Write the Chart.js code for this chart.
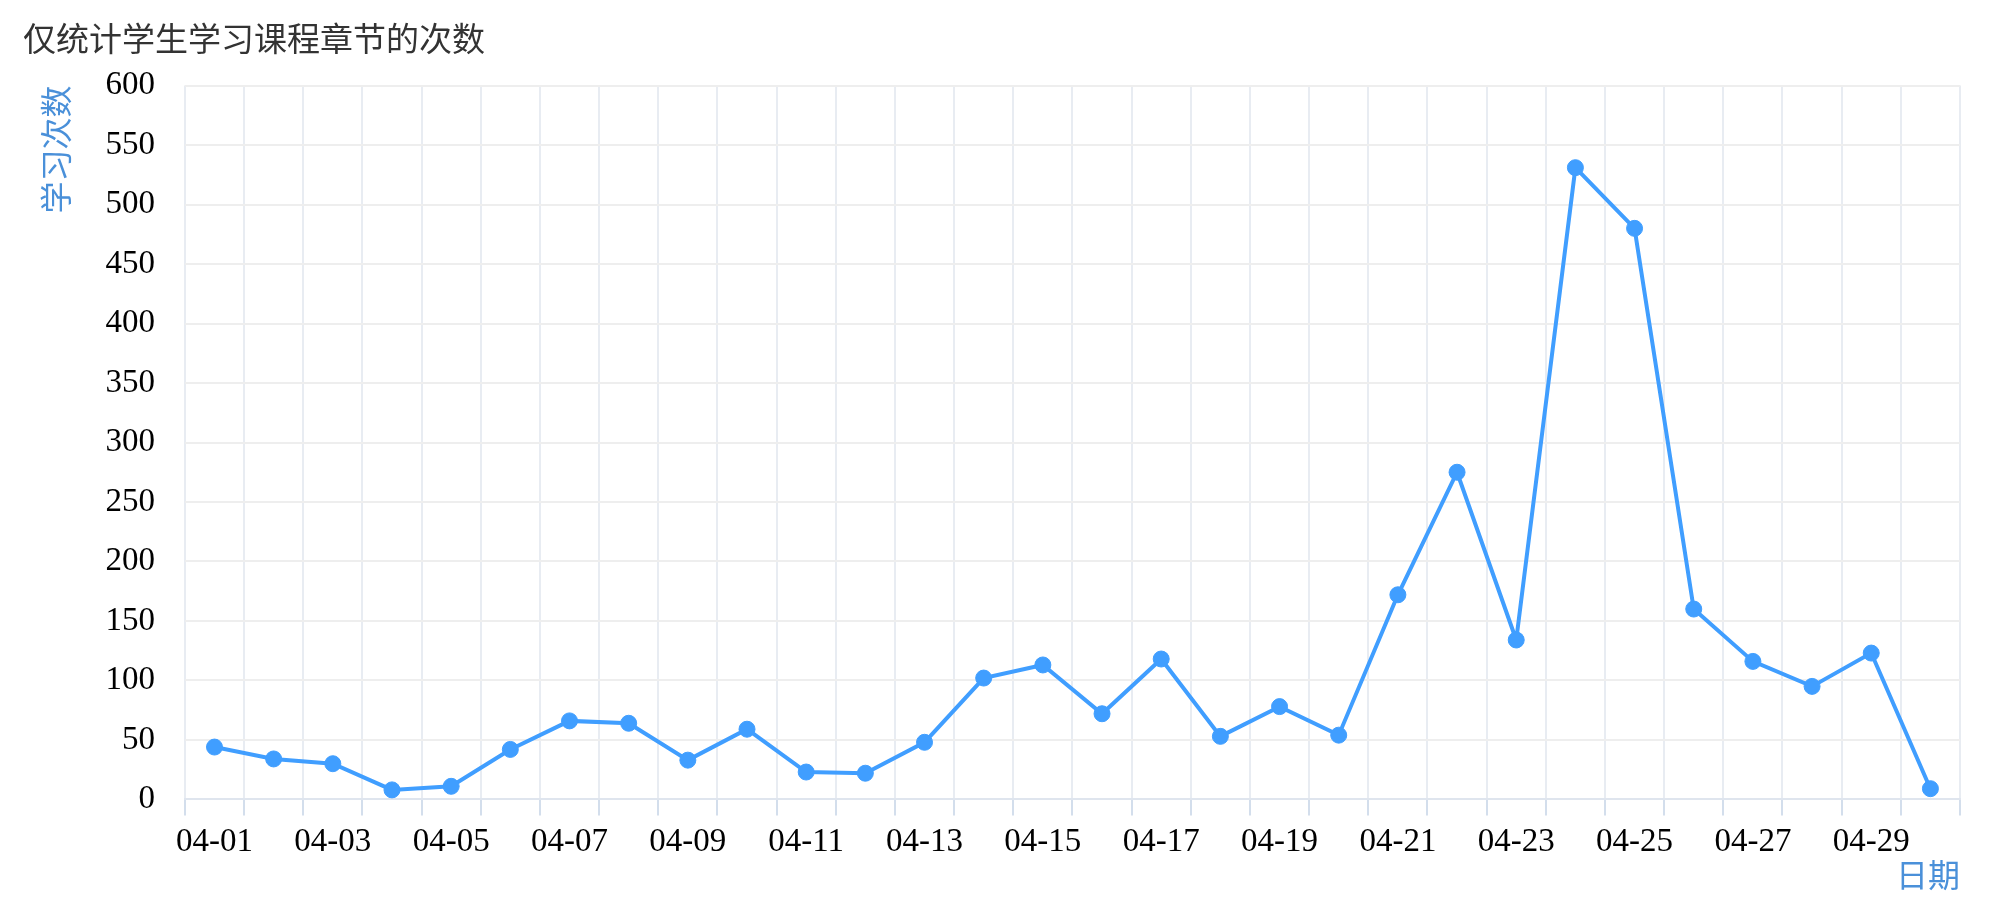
<!DOCTYPE html>
<html>
<head>
<meta charset="utf-8">
<script src="https://cdn.jsdelivr.net/npm/chart.js@4"></script>
<style>
    body { margin: 0; background: #fff; }
    #wrap { width: 2000px; height: 914px; }
</style>
</head>
<body>
<div id="wrap"><canvas id="grafico" width="2000" height="914"></canvas></div>
<script>
// dados
var dias = ['04-01', '04-02', '04-03', '04-04', '04-05', '04-06', '04-07', '04-08', '04-09', '04-10',
    '04-11', '04-12', '04-13', '04-14', '04-15', '04-16', '04-17', '04-18', '04-19', '04-20',
    '04-21', '04-22', '04-23', '04-24', '04-25', '04-26', '04-27', '04-28', '04-29', '04-30'];
var vezes = [44, 34, 30, 8, 11, 42, 66, 64, 33, 59,
    23, 22, 48, 102, 113, 72, 118, 53, 78, 54,
    172, 275, 134, 531, 480, 160, 116, 95, 123, 9];

var titulo = '仅统计学生学习课程章节的次数';
var tituloY = '学习次数';
var tituloX = '日期';

var azul = '#409EFF';
var azulTexto = '#4a90d9';
var fonte = "'Liberation Serif', 'Times New Roman', 'Noto Sans CJK SC', serif";
var fonteCJK = "'Noto Sans CJK SC', sans-serif";

new Chart(document.getElementById('grafico'), {
    type: 'line',
    data: {
        labels: dias,
        datasets: [{
            label: tituloY,
            data: vezes,
            borderColor: azul,
            backgroundColor: azul,
            borderWidth: 4,
            pointRadius: 8,
            pointBorderWidth: 1,
            pointBackgroundColor: azul,
            pointBorderColor: azul,
            tension: 0,
            fill: false
        }]
    },
    options: {
        responsive: false,
        animation: false,
        layout: { padding: { left: 23, right: 40, top: 0, bottom: 10 } },
        plugins: {
            legend: { display: false },
            tooltip: { enabled: false },
            title: {
                display: true,
                text: titulo,
                align: 'start',
                color: '#333',
                font: { family: fonteCJK, size: 33, weight: 'normal', lineHeight: 1.2 },
                padding: { top: 19, bottom: 27 }
            }
        },
        scales: {
            x: {
                type: 'category',
                offset: true,
                grid: {
                    offset: true,
                    color: '#e8ecf2',
                    lineWidth: 2,
                    drawTicks: true,
                    tickLength: 16,
                    tickColor: '#d3deec'
                },
                border: { color: '#dfe5ee', width: 2 },
                ticks: {
                    autoSkip: false,
                    maxRotation: 0,
                    padding: 7,
                    color: '#000',
                    font: { family: fonte, size: 33 },
                    callback: function (valor, i) {
                        return (i % 2 === 0) ? dias[i] : '';
                    }
                },
                title: {
                    display: true,
                    text: tituloX,
                    align: 'end',
                    color: azulTexto,
                    font: { family: fonteCJK, size: 32, lineHeight: 1.0 },
                    padding: { top: -10, bottom: 13 }
                }
            },
            y: {
                min: 0,
                max: 600,
                ticks: {
                    stepSize: 50,
                    padding: 30,
                    color: '#000',
                    font: { family: fonte, size: 33 }
                },
                grid: {
                    color: '#eeeeee',
                    lineWidth: 2,
                    drawTicks: false
                },
                border: { display: false },
                title: {
                    display: true,
                    text: tituloY,
                    align: 'end',
                    color: azulTexto,
                    font: { family: fonteCJK, size: 32, lineHeight: 1.2 },
                    padding: { top: 14, bottom: 0 }
                }
            }
        }
    }
});
</script>
</body>
</html>
